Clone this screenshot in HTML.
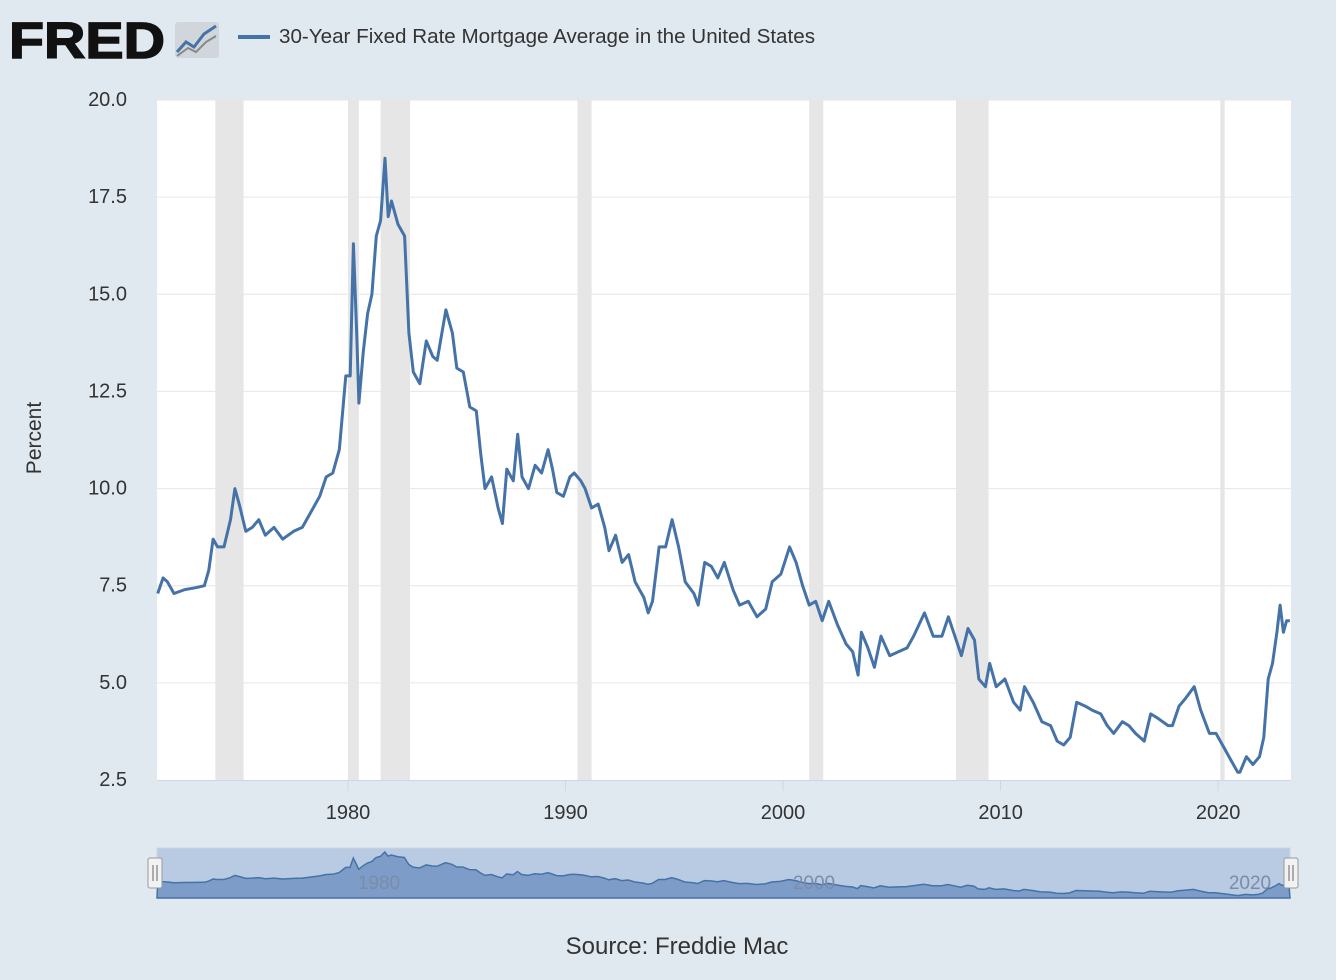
<!DOCTYPE html>
<html><head><meta charset="utf-8"><style>
body{margin:0;background:#e1e9f0;font-family:"Liberation Sans",sans-serif;}
svg{display:block}
</style></head><body>
<svg id="chart" width="1336" height="980">
<rect x="0" y="0" width="1336" height="980" fill="#e1e9f0"/>
<g>
<text x="9" y="58" font-size="51" font-weight="bold" fill="#111" textLength="156" lengthAdjust="spacingAndGlyphs" stroke="#111" stroke-width="1.5">FRED</text>
<rect x="175" y="22" width="44" height="36" rx="3" fill="#d0d6dc"/>
<polyline points="177,52 186,42 194,47 204,34 216,26" fill="none" stroke="#4572a7" stroke-width="3"/>
<polyline points="177,56 188,48 196,52 206,42 216,36" fill="none" stroke="#888" stroke-width="2"/>
</g>
<line x1="238" y1="37" x2="270" y2="37" stroke="#4572a7" stroke-width="4"/>
<text x="279" y="43" font-size="20" fill="#333" textLength="536" lengthAdjust="spacingAndGlyphs">30-Year Fixed Rate Mortgage Average in the United States</text>
<rect x="157" y="100" width="1134" height="680" fill="#fff"/>
<g id="rec"></g><g id="grid"></g><g id="xt"></g><g id="yt"></g>
<path id="line" fill="none" stroke="#4572a7" stroke-width="3" stroke-linejoin="round"/>
<text transform="translate(41,438) rotate(-90)" text-anchor="middle" font-size="21" fill="#333">Percent</text>
<g>
<rect x="157" y="848" width="1133" height="50" fill="#b9cbe3" stroke="#ccd6e0"/>
<path id="navfill" fill="#7d9cc7" stroke="#4572a7" stroke-width="1.5"/>
<text x="379" y="889" text-anchor="middle" font-size="19" fill="#7a8ca8">1980</text>
<text x="814" y="889" text-anchor="middle" font-size="19" fill="#7a8ca8">2000</text>
<text x="1250" y="889" text-anchor="middle" font-size="19" fill="#7a8ca8">2020</text>
<rect x="148" y="858" width="14" height="30" rx="2" fill="#f2f2f2" stroke="#999"/>
<line x1="153" y1="865" x2="153" y2="881" stroke="#666"/><line x1="157" y1="865" x2="157" y2="881" stroke="#666"/>
<rect x="1284" y="858" width="14" height="30" rx="2" fill="#f2f2f2" stroke="#999"/>
<line x1="1289" y1="865" x2="1289" y2="881" stroke="#666"/><line x1="1293" y1="865" x2="1293" y2="881" stroke="#666"/>
</g>
<text x="677" y="954" text-anchor="middle" font-size="24" fill="#333">Source: Freddie Mac</text>
</svg>
<script>
const years=[1971.25,1971.5,1971.7,1972.0,1972.5,1973.0,1973.4,1973.6,1973.8,1974.0,1974.3,1974.6,1974.8,1975.0,1975.3,1975.6,1975.9,1976.2,1976.6,1977.0,1977.5,1977.9,1978.3,1978.7,1979.0,1979.3,1979.6,1979.9,1980.1,1980.25,1980.4,1980.5,1980.7,1980.9,1981.1,1981.3,1981.5,1981.7,1981.85,1982.0,1982.3,1982.6,1982.8,1983.0,1983.3,1983.6,1983.9,1984.1,1984.5,1984.8,1985.0,1985.3,1985.6,1985.9,1986.1,1986.3,1986.6,1986.9,1987.1,1987.3,1987.6,1987.8,1988.0,1988.3,1988.6,1988.9,1989.2,1989.4,1989.6,1989.9,1990.2,1990.4,1990.7,1990.9,1991.2,1991.5,1991.8,1992.0,1992.3,1992.6,1992.9,1993.2,1993.6,1993.8,1994.0,1994.3,1994.6,1994.9,1995.2,1995.5,1995.9,1996.1,1996.4,1996.7,1997.0,1997.3,1997.7,1998.0,1998.4,1998.8,1999.2,1999.5,1999.9,2000.3,2000.6,2000.9,2001.2,2001.5,2001.8,2002.1,2002.5,2002.9,2003.2,2003.45,2003.6,2003.9,2004.2,2004.5,2004.9,2005.3,2005.7,2006.0,2006.5,2006.9,2007.3,2007.6,2007.9,2008.2,2008.5,2008.8,2009.0,2009.3,2009.5,2009.8,2010.2,2010.6,2010.9,2011.1,2011.5,2011.9,2012.3,2012.6,2012.9,2013.2,2013.5,2013.9,2014.2,2014.6,2014.9,2015.2,2015.6,2015.9,2016.2,2016.6,2016.9,2017.2,2017.7,2017.9,2018.2,2018.5,2018.9,2019.2,2019.6,2019.9,2020.2,2020.6,2020.9,2021.0,2021.3,2021.6,2021.9,2022.1,2022.3,2022.5,2022.7,2022.85,2023.0,2023.15,2023.3];
const rates=[7.3,7.7,7.6,7.3,7.4,7.45,7.5,7.9,8.7,8.5,8.5,9.2,10.0,9.6,8.9,9.0,9.2,8.8,9.0,8.7,8.9,9.0,9.4,9.8,10.3,10.4,11.0,12.9,12.9,16.3,14.0,12.2,13.5,14.5,15.0,16.5,16.9,18.5,17.0,17.4,16.8,16.5,14.0,13.0,12.7,13.8,13.4,13.3,14.6,14.0,13.1,13.0,12.1,12.0,10.9,10.0,10.3,9.5,9.1,10.5,10.2,11.4,10.3,10.0,10.6,10.4,11.0,10.5,9.9,9.8,10.3,10.4,10.2,10.0,9.5,9.6,9.0,8.4,8.8,8.1,8.3,7.6,7.2,6.8,7.1,8.5,8.5,9.2,8.5,7.6,7.3,7.0,8.1,8.0,7.7,8.1,7.4,7.0,7.1,6.7,6.9,7.6,7.8,8.5,8.1,7.5,7.0,7.1,6.6,7.1,6.5,6.0,5.8,5.2,6.3,5.9,5.4,6.2,5.7,5.8,5.9,6.2,6.8,6.2,6.2,6.7,6.2,5.7,6.4,6.1,5.1,4.9,5.5,4.9,5.1,4.5,4.3,4.9,4.5,4.0,3.9,3.5,3.4,3.6,4.5,4.4,4.3,4.2,3.9,3.7,4.0,3.9,3.7,3.5,4.2,4.1,3.9,3.9,4.4,4.6,4.9,4.3,3.7,3.7,3.4,3.0,2.7,2.7,3.1,2.9,3.1,3.6,5.1,5.5,6.3,7.0,6.3,6.6,6.6];
const yTicks=[2.5,5.0,7.5,10.0,12.5,15.0,17.5,20.0];
const xTicks=[1980,1990,2000,2010,2020];
const recStart=[1973.9,1980.0,1981.5,1990.55,2001.2,2007.95,2020.1];
const recEnd=[1975.2,1980.5,1982.85,1991.2,2001.85,2009.45,2020.3];
const X0=1971.22,X1=2023.35,px0=157,px1=1291;
const sx=v=>px0+(v-X0)/(X1-X0)*(px1-px0);
const sy=v=>780-(v-2.5)/17.5*680;
const NS="http://www.w3.org/2000/svg";
function mk(tag,attrs,parent,txt){const e=document.createElementNS(NS,tag);for(const k in attrs)e.setAttribute(k,attrs[k]);if(txt!==undefined)e.textContent=txt;document.getElementById(parent).appendChild(e);return e;}
recStart.forEach((s,i)=>{
 const r=mk('rect',{x:sx(s),y:100,width:sx(recEnd[i])-sx(s),height:680,fill:'#e6e6e6'},'rec');
 
 
});
yTicks.forEach(t=>{
 if(t>2.5){const l=mk('line',{x1:157,x2:1291,y1:sy(t),y2:sy(t),stroke:'#e6e6e6','stroke-width':1},'grid');
 
 }
 const tx=mk('text',{x:127,y:sy(t)+6,'text-anchor':'end','font-size':20,fill:'#333'},'yt',t.toFixed(1));
 
 
});
mk('line',{x1:157,x2:1291,y1:780.5,y2:780.5,stroke:'#ccd6eb'},'grid');
xTicks.forEach(t=>{
 const l=mk('line',{x1:sx(t),x2:sx(t),y1:781,y2:791,stroke:'#ccd6eb'},'xt');
 
 
 const tx=mk('text',{x:sx(t),y:819,'text-anchor':'middle','font-size':20,fill:'#333'},'xt',t);
 
 
});
document.getElementById('line').setAttribute('d',years.map((y,i)=>(i?'L':'M')+sx(y).toFixed(1)+','+sy(rates[i]).toFixed(1)).join(''));
const ny=v=>896-(v-2.5)/16*44;
const nx=v=>157+(v-X0)/(X1-X0)*1133;
document.getElementById('navfill').setAttribute('d','M157,898'+years.map((y,i)=>'L'+nx(y).toFixed(1)+','+ny(rates[i]).toFixed(1)).join('')+'L1290,898Z');
</script>
</body></html>
